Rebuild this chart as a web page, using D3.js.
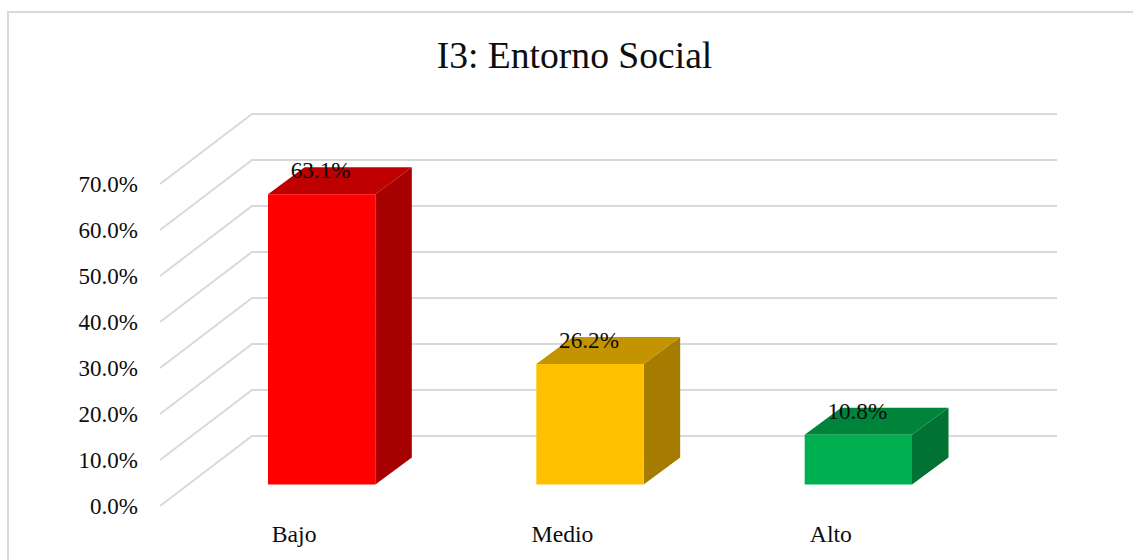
<!DOCTYPE html>
<html>
<head>
<meta charset="utf-8">
<script src="https://cdn.jsdelivr.net/npm/d3@7"></script>
<style>
html, body { margin: 0; padding: 0; background: #fff; overflow: hidden; }
text { font-family: "Liberation Serif", serif; fill: #0d0d0d; }
</style>
</head>
<body>
<svg id="chart" width="1133" height="560"></svg>
<script>
// Survey result for indicator I3
const chartTitle = "I3: Entorno Social";
const categories = ["Bajo", "Medio", "Alto"];
const values = [63.1, 26.2, 10.8];
const valueLabels = ["63.1%", "26.2%", "10.8%"];
const frontColors = ["#ff0000", "#ffc000", "#00b050"];
const topColors = ["#bf0000", "#c49400", "#00843c"];
const sideColors = ["#a60000", "#a67c00", "#007234"];
const tickValues = [0, 10, 20, 30, 40, 50, 60, 70];

const svg = d3.select("#chart");

// Outer frame of the chart area; its right and bottom edges run past the page
svg.append("rect")
  .attr("x", 8).attr("y", 12).attr("width", 1200).attr("height", 600)
  .attr("fill", "#fff").attr("stroke", "#d9d9d9").attr("stroke-width", 2);

svg.append("text")
  .attr("x", 574.5).attr("y", 68)
  .attr("text-anchor", "middle")
  .style("font-size", "37.6px")
  .text(chartTitle);

// Oblique projection: the floor runs from the front edge to the back wall
const y = d3.scaleLinear().domain([0, 70]).range([506, 184]);
const wallDx = 92, wallDy = -70;
const wallRight = 1057;
const frontX = 160;
const barDepthDx = 36.5, barDepthDy = -27;
const barShiftY = -21.5; // bar front faces sit partway back from the floor's front edge

const x = d3.scaleBand()
  .domain(categories)
  .range([187.5, 992.5])
  .paddingInner(0.6)
  .paddingOuter(0.3);

// Gridlines: receding segment on the side wall, then along the back wall
const grid = svg.append("g").attr("fill", "none").attr("stroke", "#d9d9d9").attr("stroke-width", 2);
tickValues.forEach(t => {
  const p = d3.path();
  p.moveTo(frontX, y(t));
  p.lineTo(frontX + wallDx, y(t) + wallDy);
  p.lineTo(wallRight, y(t) + wallDy);
  grid.append("path").attr("d", p.toString());
});

// Value axis labels
const yAxis = d3.axisLeft(y)
  .tickValues(tickValues)
  .tickFormat(d => d.toFixed(1) + "%")
  .tickSize(0)
  .tickPadding(0);
const yAxisG = svg.append("g").attr("transform", "translate(138,0)").call(yAxis);
yAxisG.select(".domain").remove();
yAxisG.selectAll("text").style("font-size", "23px").attr("dy", "7.5px");

// Category labels
const xAxis = d3.axisBottom(x).tickSize(0).tickPadding(0);
const xAxisG = svg.append("g").attr("transform", "translate(-27.5,525)").call(xAxis);
xAxisG.select(".domain").remove();
xAxisG.selectAll("text").style("font-size", "23.7px");

// Bars as three visible faces of a box
const bars = svg.append("g").selectAll("g").data(categories).join("g");
const faces = (d, i) => {
  const x0 = x(d), x1 = x0 + x.bandwidth();
  const yb = y(0) + barShiftY, yt = y(values[i]) + barShiftY;
  return { x0, x1, yb, yt };
};
const poly = pts => pts.map(p => p.join(",")).join(" ");

bars.append("polygon")
  .attr("fill", (d, i) => sideColors[i])
  .attr("points", (d, i) => {
    const f = faces(d, i);
    return poly([[f.x1, f.yt], [f.x1 + barDepthDx, f.yt + barDepthDy], [f.x1 + barDepthDx, f.yb + barDepthDy], [f.x1, f.yb]]);
  });
bars.append("polygon")
  .attr("fill", (d, i) => topColors[i])
  .attr("points", (d, i) => {
    const f = faces(d, i);
    return poly([[f.x0, f.yt], [f.x0 + barDepthDx, f.yt + barDepthDy], [f.x1 + barDepthDx, f.yt + barDepthDy], [f.x1, f.yt]]);
  });
bars.append("rect")
  .attr("fill", (d, i) => frontColors[i])
  .attr("x", d => x(d))
  .attr("width", x.bandwidth())
  .attr("y", (d, i) => faces(d, i).yt)
  .attr("height", (d, i) => faces(d, i).yb - faces(d, i).yt);

// Value labels over the top face
bars.append("text")
  .attr("x", d => x(d) + x.bandwidth() / 2 - 1)
  .attr("y", (d, i) => faces(d, i).yt - 16)
  .attr("text-anchor", "middle")
  .style("font-size", "23.2px")
  .text((d, i) => valueLabels[i]);
</script>
</body>
</html>
